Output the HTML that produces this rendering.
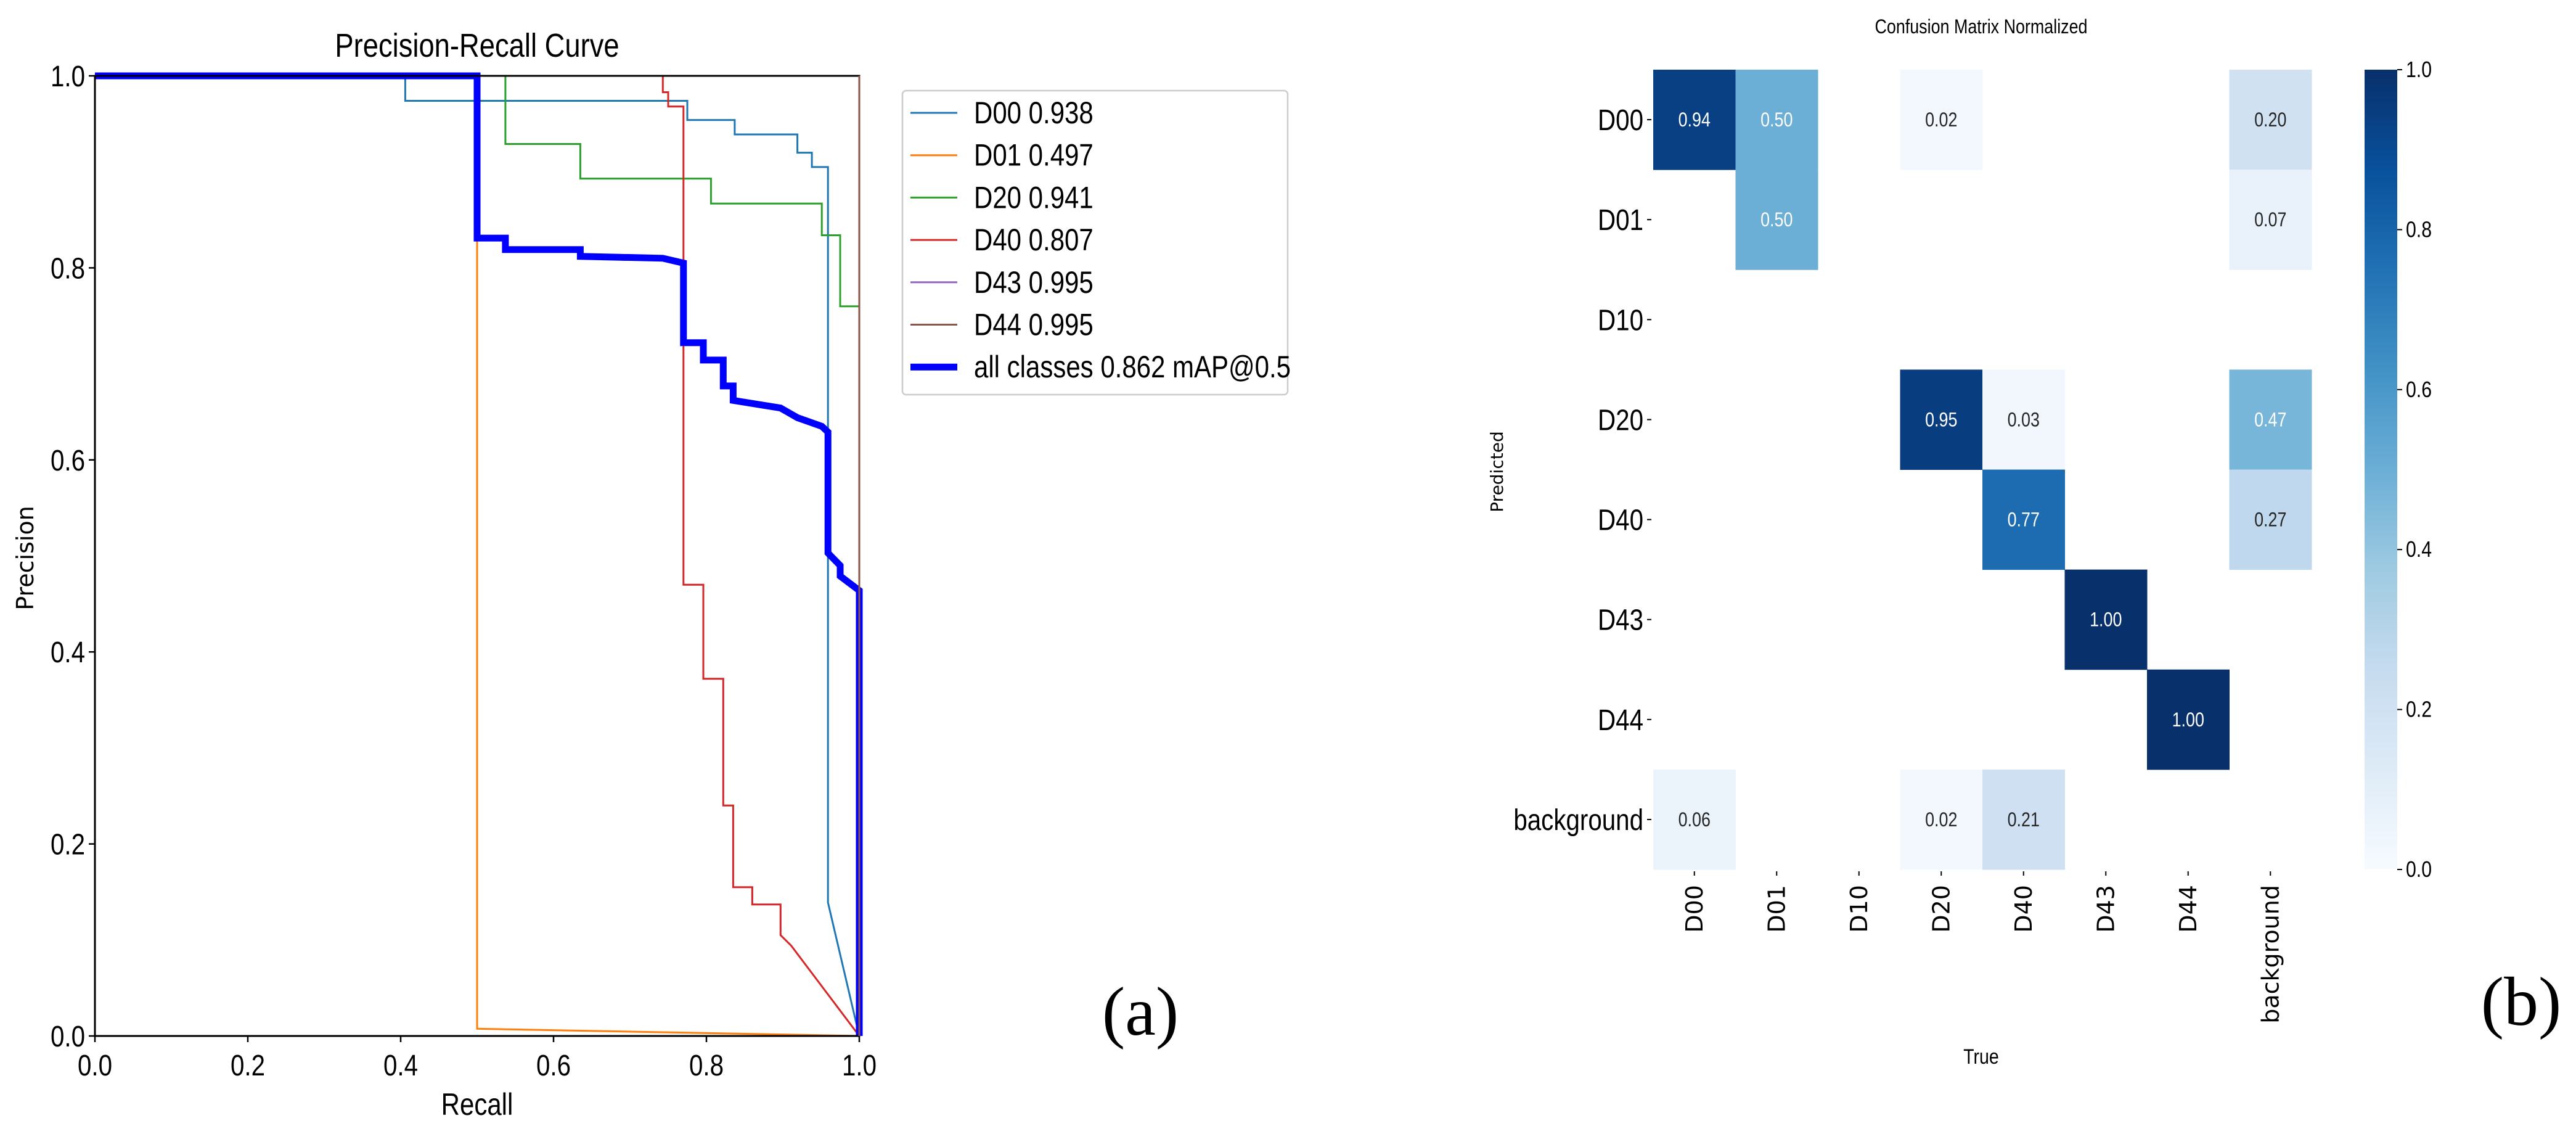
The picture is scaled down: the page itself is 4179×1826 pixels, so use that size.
<!DOCTYPE html>
<html><head><meta charset="utf-8">
<style>
html,body{margin:0;padding:0;background:#fff;}
svg{display:block;}
text{font-family:"Liberation Sans Narrow","Liberation Sans",sans-serif;}
</style></head>
<body>
<svg id="root" width="4179" height="1826" viewBox="0 0 4179 1826" xmlns="http://www.w3.org/2000/svg">
<g id="pr"></g>
<g id="cm"></g>
</svg>
<script>
// ---------- PR curve data ----------
const prTicks = [0, 0.2, 0.4, 0.6, 0.8, 1.0];
const prTickLabels = ["0.0","0.2","0.4","0.6","0.8","1.0"];
const seriesNames = ["D00 0.938","D01 0.497","D20 0.941","D40 0.807","D43 0.995","D44 0.995","all classes 0.862 mAP@0.5"];
const seriesColors = ["#1f77b4","#ff7f0e","#2ca02c","#d62728","#9467bd","#8c564b","#0000ff"];
const d00R = [0,0.406,0.406,0.775,0.775,0.837,0.837,0.919,0.919,0.938,0.938,0.959,0.959,1.0];
const d00P = [1,1,0.974,0.974,0.954,0.954,0.939,0.939,0.920,0.920,0.905,0.905,0.139,0];
const d01R = [0,0.5,0.5,1.0];
const d01P = [1,1,0.0075,0];
const d20R = [0,0.537,0.537,0.635,0.635,0.806,0.806,0.951,0.951,0.975,0.975,1.0];
const d20P = [1,1,0.929,0.929,0.893,0.893,0.867,0.867,0.834,0.834,0.760,0.760];
const d40R = [0.743,0.743,0.750,0.750,0.756,0.756,0.770,0.770,0.796,0.796,0.822,0.822,0.835,0.835,0.860,0.860,0.897,0.897,0.911,1.0];
const d40P = [1.0,0.983,0.983,0.968,0.968,0.968,0.968,0.470,0.470,0.372,0.372,0.240,0.240,0.155,0.155,0.137,0.137,0.105,0.094,0];
const d43R = [0,1.0,1.0];
const d43P = [1,1,0];
const d44R = [0,1.0,1.0];
const d44P = [1,1,0];
const allR = [0,0.5,0.5,0.537,0.537,0.635,0.635,0.743,0.770,0.770,0.796,0.796,0.822,0.822,0.835,0.835,0.897,0.919,0.951,0.959,0.959,0.975,0.975,1.0,1.0];
const allP = [1,1,0.831,0.831,0.819,0.819,0.812,0.810,0.805,0.722,0.722,0.704,0.704,0.677,0.677,0.662,0.654,0.644,0.635,0.629,0.503,0.490,0.479,0.464,0];

// ---------- Confusion matrix data ----------
const cmLabels = ["D00","D01","D10","D20","D40","D43","D44","background"];
const cmValues = [
 [0.94,0.50,0,0.02,0,0,0,0.20],
 [0,0.50,0,0,0,0,0,0.07],
 [0,0,0,0,0,0,0,0],
 [0,0,0,0.95,0.03,0,0,0.47],
 [0,0,0,0,0.77,0,0,0.27],
 [0,0,0,0,0,1.00,0,0],
 [0,0,0,0,0,0,1.00,0],
 [0.06,0,0,0.02,0.21,0,0,0]
];
const cbTicks = [0,0.2,0.4,0.6,0.8,1.0];
const cbTickLabels = ["0.0","0.2","0.4","0.6","0.8","1.0"];

const NS="http://www.w3.org/2000/svg";
function mk(parent,tag,attrs,text){const e=document.createElementNS(NS,tag);for(const k in attrs)e.setAttribute(k,attrs[k]);if(text!==undefined)e.textContent=text;parent.appendChild(e);return e;}

// ---- PR chart ----
const pr=document.getElementById('pr');
const X0=154,X1=1394,Y0=1680,Y1=123;
const xS=v=>X0+v*(X1-X0), yS=v=>Y0-v*(Y0-Y1);
let t=mk(pr,'text',{x:774,y:92,'font-size':54,'text-anchor':'middle',fill:'#000'},'Precision-Recall Curve');


const series=[[d00R,d00P],[d01R,d01P],[d20R,d20P],[d40R,d40P],[d43R,d43P],[d44R,d44P]];
series.forEach((s,i)=>{
  const pts=s[0].map((r,j)=>xS(r).toFixed(1)+','+yS(s[1][j]).toFixed(1)).join(' ');
  const l=mk(pr,'polyline',{points:pts,fill:'none',stroke:seriesColors[i],'stroke-width':3});
  
  
});
{
  const pts=allR.map((r,j)=>xS(r).toFixed(1)+','+yS(allP[j]).toFixed(1)).join(' ');
  const l=mk(pr,'polyline',{points:pts,fill:'none',stroke:'#0000ff','stroke-width':11});
  
  
}
const frame=mk(pr,'rect',{x:X0,y:Y1,width:X1-X0,height:Y0-Y1,fill:'none',stroke:'#000','stroke-width':3});


{
  const l=mk(pr,'line',{x1:X1,x2:X1,y1:Y1,y2:Y0,stroke:'#8c564b','stroke-width':3});
  
  
}
prTicks.forEach((v,i)=>{
  mk(pr,'line',{x1:xS(v),x2:xS(v),y1:Y0,y2:Y0+10,stroke:'#000','stroke-width':2.5});
  const tx=mk(pr,'text',{x:xS(v),y:1744,'font-size':48,'text-anchor':'middle'},prTickLabels[i]);
  
  
  mk(pr,'line',{x1:X0-10,x2:X0,y1:yS(v),y2:yS(v),stroke:'#000','stroke-width':2.5});
  const ty=mk(pr,'text',{x:X0-16,y:yS(v)+17,'font-size':48,'text-anchor':'end'},prTickLabels[i]);
  
  
});
t=mk(pr,'text',{x:774,y:1808,'font-size':50,'text-anchor':'middle'},'Recall');


t=mk(pr,'text',{x:0,y:0,'font-size':38,'text-anchor':'middle',transform:'translate(54,905) rotate(-90)',style:'font-family:"DejaVu Sans",sans-serif'},'Precision');


// legend
const lg=mk(pr,'g',{});


mk(lg,'rect',{x:1464,y:147,width:625,height:493,rx:6,fill:'#fff',stroke:'#ccc','stroke-width':2.5});
seriesNames.forEach((n,i)=>{
  const y=183+i*68.7;
  const g=mk(lg,'g',{});
  
  
  mk(g,'line',{x1:1477,x2:1553,y1:y,y2:y,stroke:seriesColors[i],'stroke-width':i===6?11:3});
  mk(g,'text',{x:1580,y:y+17,'font-size':50},n);
});
t=mk(pr,'text',{x:1850,y:1678,'font-size':112,'text-anchor':'middle',style:'font-family:"Liberation Serif",serif'},'(a)');



// ---- Confusion matrix ----
const cm=document.getElementById('cm');
const MX0=2682,MX1=3750,MY0=113,MY1=1410;
const cw=(MX1-MX0)/cmLabels.length, ch=(MY1-MY0)/cmLabels.length;
const stops=[[247,251,255],[222,235,247],[198,219,239],[158,202,225],[107,174,214],[66,146,198],[33,113,181],[8,81,156],[8,48,107]];
function blues(v){const p=Math.max(0,Math.min(1,v))*(stops.length-1);const i=Math.min(stops.length-2,Math.floor(p));const f=p-i;const c=stops[i].map((a,k)=>Math.round(a+(stops[i+1][k]-a)*f));return `rgb(${c[0]},${c[1]},${c[2]})`;}
t=mk(cm,'text',{x:3214,y:54,'font-size':32,'text-anchor':'middle'},'Confusion Matrix Normalized');


cmValues.forEach((row,r)=>row.forEach((v,c)=>{
  if(v<=0)return;
  const x=MX0+c*cw,y=MY0+r*ch;
  const rc=mk(cm,'rect',{x:x,y:y,width:cw+0.5,height:ch+0.5,fill:blues(v)});
  
  
  const tv=mk(cm,'text',{x:x+cw/2,y:y+ch/2+11,'font-size':32,'text-anchor':'middle',fill:v>0.4?'#fff':'#262626'},v.toFixed(2));
  
  
}));
cmLabels.forEach((lab,i)=>{
  const yc=MY0+(i+0.5)*ch;
  mk(cm,'line',{x1:MX0-10,x2:MX0-3,y1:yc,y2:yc,stroke:'#000','stroke-width':2});
  const ty=mk(cm,'text',{x:MX0-16,y:yc+17,'font-size':48,'text-anchor':'end'},lab);
  
  
  const xc=MX0+(i+0.5)*cw;
  mk(cm,'line',{x1:xc,x2:xc,y1:MY1+3,y2:MY1+10,stroke:'#000','stroke-width':2});
  const tx=mk(cm,'text',{x:0,y:0,'font-size':38,'text-anchor':'end',transform:`translate(${xc+13},${MY1+25}) rotate(-90)`,style:'font-family:"DejaVu Sans",sans-serif'},lab);
  
  
});
t=mk(cm,'text',{x:0,y:0,'font-size':28,'text-anchor':'middle',transform:'translate(2438,765) rotate(-90)',style:'font-family:"DejaVu Sans",sans-serif'},'Predicted');


t=mk(cm,'text',{x:3214,y:1725,'font-size':34,'text-anchor':'middle'},'True');


// colorbar
const CB0=3836,CB1=3889;
const defs=mk(cm,'defs',{});
const gr=mk(defs,'linearGradient',{id:'bl',x1:0,y1:1,x2:0,y2:0});
stops.forEach((s,i)=>mk(gr,'stop',{offset:(i/(stops.length-1)),'stop-color':`rgb(${s[0]},${s[1]},${s[2]})`}));
const cb=mk(cm,'rect',{x:CB0,y:MY0,width:CB1-CB0,height:MY1-MY0,fill:'url(#bl)'});


cbTicks.forEach((v,i)=>{
  const y=MY1-v*(MY1-MY0);
  mk(cm,'line',{x1:CB1,x2:CB1+8,y1:y,y2:y,stroke:'#000','stroke-width':2});
  const tl=mk(cm,'text',{x:CB1+14,y:y+12,'font-size':36},cbTickLabels[i]);
  
  
});
t=mk(cm,'text',{x:4090,y:1662,'font-size':112,'text-anchor':'middle',style:'font-family:"Liberation Serif",serif'},'(b)');



// condense sans text horizontally (reference uses a narrow face)
document.querySelectorAll('text').forEach(el=>{
  if(el.getAttribute('transform')||el.getAttribute('style'))return;
  const x=+el.getAttribute('x'),y=+el.getAttribute('y');
  el.setAttribute('transform',`translate(${x},${y}) scale(0.84,1) translate(${-x},${-y})`);
});
</script>
</body></html>
